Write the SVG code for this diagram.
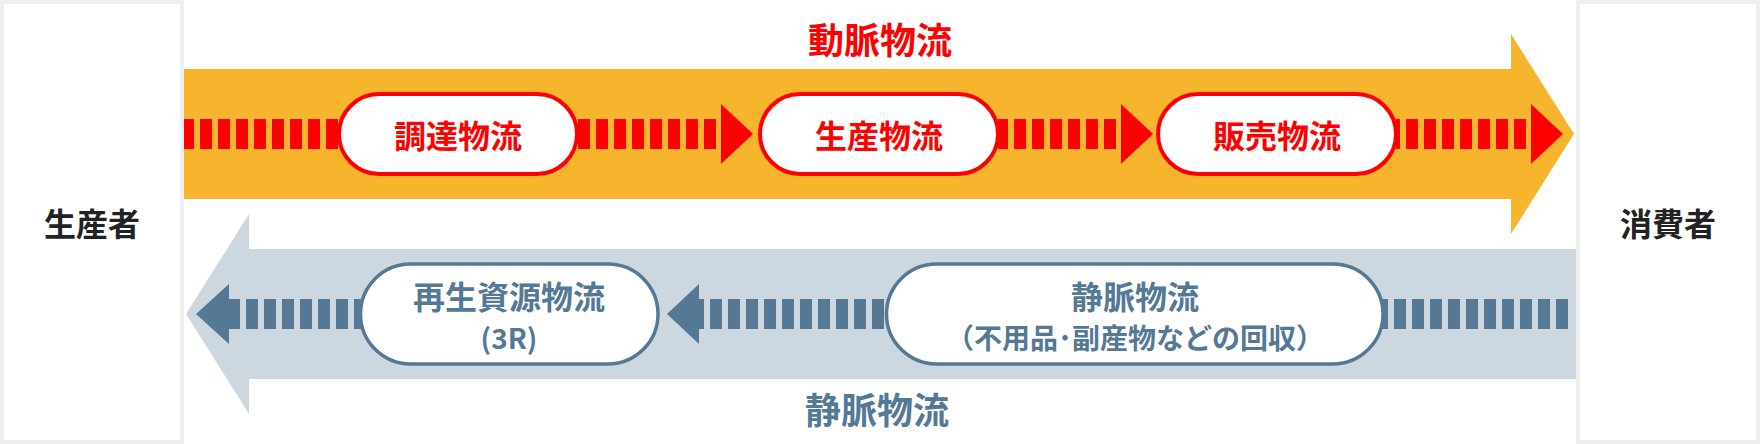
<svg xmlns="http://www.w3.org/2000/svg" width="1760" height="444" viewBox="0 0 1760 444">
<style>
.box{fill:#fff;stroke:#efefef;stroke-width:4}
.t{font-family:"Noto Sans CJK JP","Noto Sans",sans-serif;font-weight:700;text-anchor:middle;dominant-baseline:central}
.dark{fill:#222}
.red{fill:#ff0000}
.blue{fill:#557895}
.pr{fill:#fff;stroke:#ff0000;stroke-width:4}
.pb{fill:#fff;stroke:#557895;stroke-width:3.5}
.dr{stroke:#ff0000;stroke-width:30;stroke-dasharray:12 6;fill:none}
.db{stroke:#557895;stroke-width:30;stroke-dasharray:12 6;fill:none}
</style>
<rect width="1760" height="444" fill="#fff"/>
<g id="bands">
<polygon points="184,69 1511,69 1511,34 1574,134 1511,234 1511,199 184,199" fill="#f6b52c"/>
<polygon points="1576,249 249,249 249,214 186,314 249,414 249,379 1576,379" fill="#cdd7e0"/>
<text class="t red" x="880" y="37.5" font-size="36">動脈物流</text>
<text class="t blue" x="877" y="407.5" font-size="36">静脈物流</text>
</g>
<g id="producer">
<rect class="box" x="2" y="2" width="180" height="440"/>
<text class="t dark" x="92" y="222" font-size="32">生産者</text>
</g>
<g id="consumer">
<rect class="box" x="1578" y="2" width="180" height="440"/>
<text class="t dark" x="1668" y="222" font-size="32">消費者</text>
</g>
<g id="connectors">
<line class="dr" x1="338" y1="134" x2="184" y2="134"/>
<line class="dr" x1="716" y1="134" x2="578" y2="134"/>
<polygon class="red" points="721,104 753,134 721,164"/>
<line class="dr" x1="1116" y1="134" x2="998" y2="134"/>
<polygon class="red" points="1121,104 1153,134 1121,164"/>
<line class="dr" x1="1526" y1="134" x2="1396" y2="134"/>
<polygon class="red" points="1531,104 1563,134 1531,164"/>
<line class="db" x1="1568" y1="314" x2="1380" y2="314"/>
<line class="db" x1="884" y1="314" x2="699" y2="314"/>
<polygon class="blue" points="699,284 667,314 699,344"/>
<line class="db" x1="228" y1="314" x2="362" y2="314"/>
<polygon class="blue" points="229,284 196,314 229,344"/>
</g>
<g id="procurement">
<rect class="pr" x="339" y="94" width="238" height="80" rx="40"/>
<text class="t red" x="458" y="134" font-size="32">調達物流</text>
</g>
<g id="production">
<rect class="pr" x="760" y="94" width="238" height="80" rx="40"/>
<text class="t red" x="879" y="134" font-size="32">生産物流</text>
</g>
<g id="sales">
<rect class="pr" x="1158" y="94" width="238" height="80" rx="40"/>
<text class="t red" x="1277" y="134" font-size="32">販売物流</text>
</g>
<g id="recycling">
<rect class="pb" x="360.5" y="264" width="297.5" height="100" rx="50"/>
<text class="t blue" x="509" y="295" font-size="32">再生資源物流</text>
<text class="t blue" x="509" y="337" font-size="28">(3R)</text>
</g>
<g id="venous">
<rect class="pb" x="886.5" y="264" width="496.5" height="100" rx="50"/>
<text class="t blue" x="1135" y="295" font-size="32">静脈物流</text>
<text class="t blue" x="1135" y="337" font-size="28">（不用品･副産物などの回収）</text>
</g>
</svg>
